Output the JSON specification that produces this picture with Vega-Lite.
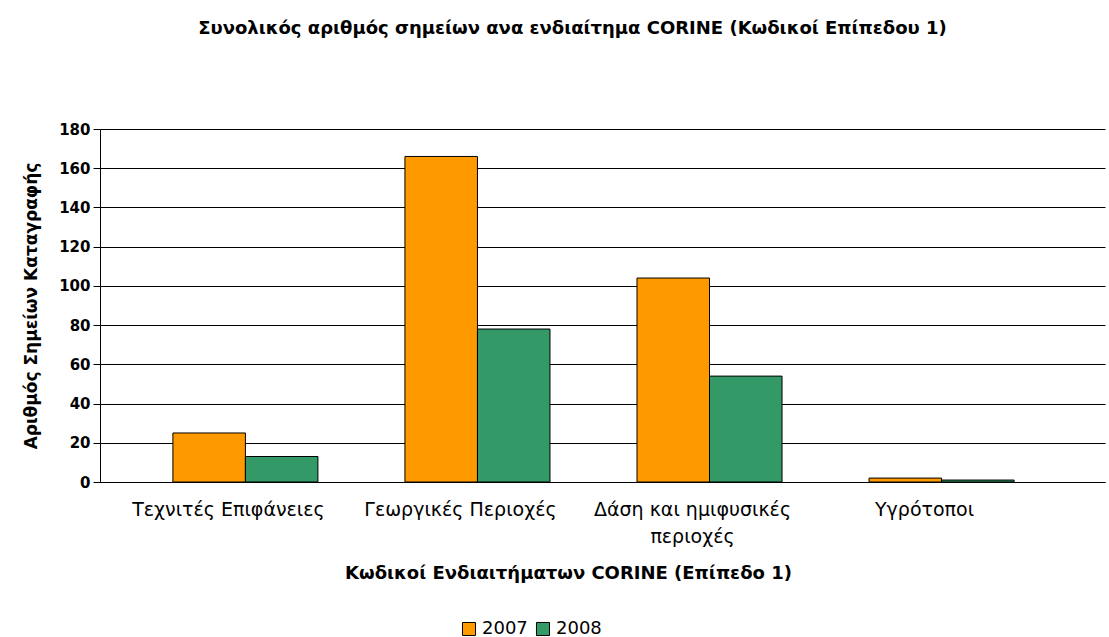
{
  "$schema": "https://vega.github.io/schema/vega-lite/v6.json",
  "width": 1005,
  "height": 353,
  "autosize": "none",
  "padding": {"left": 100, "top": 129, "right": 4, "bottom": 155},
  "background": "white",
  "title": {
    "text": "Συνολικός αριθμός σημείων ανα ενδιαίτημα CORINE (Κωδικοί Επίπεδου 1)",
    "font": "DejaVu Sans",
    "fontSize": 18,
    "fontWeight": "bold",
    "color": "black",
    "anchor": "middle",
    "dx": -30,
    "offset": 84
  },
  "data": {
    "values": [
      {"category": "Τεχνιτές Επιφάνειες", "year": "2007", "count": 25},
      {"category": "Τεχνιτές Επιφάνειες", "year": "2008", "count": 13},
      {"category": "Γεωργικές Περιοχές", "year": "2007", "count": 166},
      {"category": "Γεωργικές Περιοχές", "year": "2008", "count": 78},
      {"category": "Δάση και ημιφυσικές περιοχές", "year": "2007", "count": 104},
      {"category": "Δάση και ημιφυσικές περιοχές", "year": "2008", "count": 54},
      {"category": "Υγρότοποι", "year": "2007", "count": 2},
      {"category": "Υγρότοποι", "year": "2008", "count": 1}
    ]
  },
  "mark": {"type": "bar", "stroke": "black", "strokeWidth": 1},
  "encoding": {
    "x": {
      "field": "category",
      "type": "nominal",
      "sort": null,
      "scale": {"paddingInner": 0.375, "paddingOuter": 0.353, "align": 0.445},
      "axis": {
        "title": "Κωδικοί Ενδιαιτήματων CORINE (Επίπεδο 1)",
        "titleFont": "DejaVu Sans",
        "titleFontSize": 18,
        "titleFontWeight": "bold",
        "titleColor": "black",
        "titlePadding": 18,
        "titleX": 468,
        "labelAngle": 0,
        "labelFont": "DejaVu Sans",
        "labelFontSize": 19,
        "labelColor": "black",
        "labelPadding": 18,
        "labelOffset": -17,
        "labelLimit": 300,
        "labelLineHeight": 27,
        "labelExpr": "datum.value == 'Δάση και ημιφυσικές περιοχές' ? ['Δάση και ημιφυσικές', 'περιοχές'] : datum.value",
        "domainColor": "black",
        "ticks": false,
        "grid": false
      }
    },
    "xOffset": {"field": "year", "type": "nominal"},
    "y": {
      "field": "count",
      "type": "quantitative",
      "scale": {"domain": [0, 180]},
      "axis": {
        "title": "Αριθμός Σημείων Καταγραφής",
        "titleFont": "DejaVu Sans",
        "titleFontSize": 17,
        "titleFontWeight": "bold",
        "titleColor": "black",
        "titlePadding": 18,
        "values": [0, 20, 40, 60, 80, 100, 120, 140, 160, 180],
        "labelFont": "DejaVu Sans",
        "labelFontSize": 15,
        "labelFontWeight": "bold",
        "labelColor": "black",
        "labelPadding": 3,
        "tickColor": "black",
        "tickSize": 7,
        "domainColor": "black",
        "gridColor": "black",
        "gridWidth": 1
      }
    },
    "color": {
      "field": "year",
      "type": "nominal",
      "scale": {"domain": ["2007", "2008"], "range": ["#FF9900", "#339966"]},
      "legend": {
        "title": null,
        "orient": "none",
        "legendX": 360,
        "legendY": 491,
        "direction": "horizontal",
        "symbolType": "square",
        "symbolSize": 170,
        "symbolStrokeColor": "black",
        "symbolStrokeWidth": 1,
        "labelFont": "DejaVu Sans",
        "labelFontSize": 18,
        "labelColor": "black",
        "columnPadding": 6
      }
    }
  },
  "config": {"view": {"stroke": null}}
}
